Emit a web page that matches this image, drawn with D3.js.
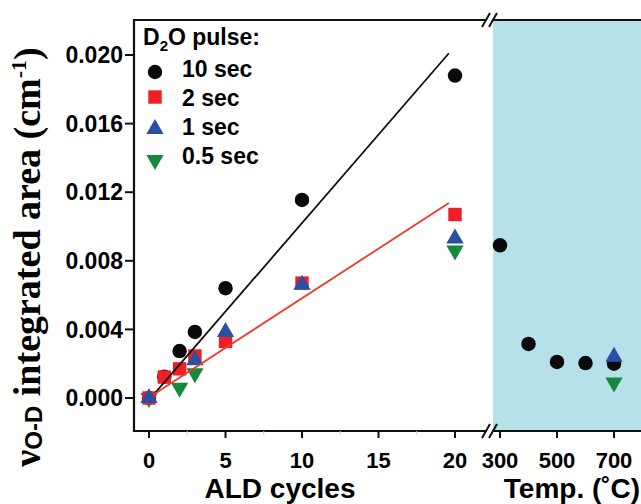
<!DOCTYPE html>
<html>
<head>
<meta charset="utf-8">
<script src="https://cdn.jsdelivr.net/npm/d3@7"></script>
<style>
  body { margin: 0; background: #fff; }
  svg { display: block; }
</style>
</head>
<body>
<div id="chart"></div>
<script>
// left panel: ALD cycles, right panel: temperature (10 sec pulse samples annealed)
const cycleTicks = [0, 5, 10, 15, 20];
const cycleMinor = [2.5, 7.5, 12.5, 17.5];
const tempTicks = [300, 500, 700];
const yTicks = [0, 0.004, 0.008, 0.012, 0.016, 0.020];

// cycles vs integrated area
const sec10 = [[0, 0], [1, 0.00124], [2, 0.00274], [3, 0.00385], [5, 0.0064], [10, 0.01155], [20, 0.0188]];
const sec2 = [[0, 0], [1, 0.00122], [2, 0.0017], [3, 0.00245], [5, 0.0033], [10, 0.0067], [20, 0.0107]];
const sec1 = [[0, 0], [3, 0.0022], [5, 0.00385], [10, 0.0066], [20, 0.0093]];
const sec05 = [[0, 0], [2, 0.0006], [3, 0.00145], [20, 0.0086]];

// temperature vs integrated area
const temp10 = [[300, 0.0089], [400, 0.00315], [500, 0.0021], [600, 0.00204], [700, 0.0020]];
const temp1 = [[700, 0.0024]];
const temp05 = [[700, 0.0009]];

// linear fits (end points)
const fit10 = [[0.4, 0.0003], [19.6, 0.0201]];
const fit2 = [[0.3, 0.0002], [19.6, 0.01137]];

const legendItems = ['10 sec', '2 sec', '1 sec', '0.5 sec'];

const W = 641, H = 504;
const plotLeft = 134, plotTop = 20, plotBottom = 431, breakX = 490;

const svg = d3.select('#chart').append('svg').attr('width', W).attr('height', H);

const x1 = d3.scaleLinear().domain([0, 20]).range([149, 455]);
const x2 = d3.scaleLinear().domain([300, 700]).range([500, 614]);
const y = d3.scaleLinear().domain([0, 0.020]).range([398, 55]);

const sans = "'Liberation Sans', Arial, sans-serif";
const serif = "'Liberation Serif', 'Times New Roman', serif";

// shaded temperature region
svg.append('rect')
  .attr('x', breakX + 3).attr('y', plotTop + 1)
  .attr('width', W - breakX - 3).attr('height', plotBottom - plotTop - 2)
  .style('fill', '#b7e1ea');

// spines
const spine = svg.append('g').style('stroke', '#111').style('stroke-width', 2.2).style('fill', 'none');
spine.append('line').attr('x1', plotLeft).attr('x2', plotLeft).attr('y1', plotTop - 1).attr('y2', plotBottom + 1);
spine.append('line').attr('x1', plotLeft).attr('x2', W).attr('y1', plotTop).attr('y2', plotTop);
spine.append('line').attr('x1', plotLeft).attr('x2', W).attr('y1', plotBottom).attr('y2', plotBottom);

// axis breaks
[plotTop, plotBottom].forEach(yy => {
  svg.append('rect').attr('x', breakX - 3).attr('y', yy - 2).attr('width', 5).attr('height', 4).style('fill', '#fff');
  [breakX - 4, breakX + 3].forEach(bx => {
    svg.append('line')
      .attr('x1', bx - 4).attr('y1', yy + 7)
      .attr('x2', bx + 4).attr('y2', yy - 7)
      .style('stroke', '#111').style('stroke-width', 2);
  });
});

// y ticks
const yAxis = svg.append('g');
yTicks.forEach(t => {
  yAxis.append('line').attr('x1', plotLeft - 9).attr('x2', plotLeft).attr('y1', y(t)).attr('y2', y(t))
    .style('stroke', '#111').style('stroke-width', 2);
  yAxis.append('text')
    .attr('x', plotLeft - 11).attr('y', y(t))
    .attr('dy', '0.36em')
    .style('text-anchor', 'end')
    .style('font-family', sans).style('font-weight', 'bold').style('font-size', '23px')
    .text(d3.format('.3f')(t));
});

// x ticks
function xTick(xs, t, label) {
  svg.append('line').attr('x1', xs(t)).attr('x2', xs(t)).attr('y1', plotBottom).attr('y2', plotBottom + 7)
    .style('stroke', '#111').style('stroke-width', 2);
  svg.append('text')
    .attr('x', xs(t)).attr('y', 468)
    .style('text-anchor', 'middle')
    .style('font-family', sans).style('font-weight', 'bold').style('font-size', '22px')
    .text(label);
}
cycleTicks.forEach(t => xTick(x1, t, t));
tempTicks.forEach(t => xTick(x2, t, t));
cycleMinor.forEach(t => {
  svg.append('line').attr('x1', x1(t)).attr('x2', x1(t)).attr('y1', plotBottom).attr('y2', plotBottom + 4)
    .style('stroke', '#ccc').style('stroke-width', 1);
});

// axis titles
svg.append('text').attr('x', 280).attr('y', 498)
  .style('text-anchor', 'middle')
  .style('font-family', sans).style('font-weight', 'bold').style('font-size', '28px')
  .text('ALD cycles');
svg.append('text').attr('x', 572).attr('y', 498)
  .style('text-anchor', 'middle')
  .style('font-family', sans).style('font-weight', 'bold').style('font-size', '28px')
  .text('Temp. (˚C)');

const ylab = svg.append('text')
  .attr('transform', 'translate(40,257) rotate(-90)')
  .style('text-anchor', 'middle')
  .style('font-family', serif).style('font-weight', 'bold').style('font-size', '38px');
ylab.append('tspan').text('ν');
ylab.append('tspan').style('font-family', sans).style('font-size', '24px').attr('dy', 2).text('O-D');
ylab.append('tspan').attr('dy', -2).text(' integrated area (cm');
ylab.append('tspan').style('font-size', '22px').attr('dy', -14).text('-1');
ylab.append('tspan').attr('dy', 14).text(')');

// markers
const symCircle = d3.symbol().type(d3.symbolCircle).size(165);
const symSquare = d3.symbol().type(d3.symbolSquare).size(180);
const symTri = d3.symbol().type(d3.symbolTriangle).size(130);

function drawSeries(data, xs, sym, color, flip) {
  svg.append('g').selectAll('path')
    .data(data)
    .join('path')
    .attr('d', sym)
    .attr('transform', d => `translate(${xs(d[0])},${y(d[1])})` + (flip ? ' rotate(180)' : ''))
    .style('fill', color);
}

const colors = ['#0a0a0a', '#ee1f26', '#2a4fa3', '#16893c'];

drawSeries(sec10, x1, symCircle, colors[0]);
drawSeries(temp10, x2, symCircle, colors[0]);
drawSeries(sec05, x1, symTri, colors[3], true);
drawSeries(temp05, x2, symTri, colors[3], true);
drawSeries(sec2, x1, symSquare, colors[1]);
drawSeries(sec1, x1, symTri, colors[2]);
drawSeries(temp1, x2, symTri, colors[2]);

// fit lines
const line = d3.line().x(d => x1(d[0])).y(d => y(d[1]));
svg.append('path').attr('d', line(fit10)).style('fill', 'none').style('stroke', '#111').style('stroke-width', 1.8);
svg.append('path').attr('d', line(fit2)).style('fill', 'none').style('stroke', '#f0392a').style('stroke-width', 1.8);

// legend
const lg = svg.append('g').style('font-family', sans).style('font-weight', 'bold').style('font-size', '23px');
const title = lg.append('text').attr('x', 143).attr('y', 45);
title.append('tspan').text('D');
title.append('tspan').style('font-size', '15px').attr('dy', 6).text('2');
title.append('tspan').attr('dy', -6).text('O pulse:');

const legendSyms = [symCircle, symSquare, symTri, symTri];
const legendDy = [-5, -9, -6, -4];
legendItems.forEach((name, i) => {
  const by = 77 + i * 29;
  lg.append('path')
    .attr('d', legendSyms[i])
    .attr('transform', `translate(155,${by + legendDy[i]})` + (i === 3 ? ' rotate(180)' : ''))
    .style('fill', colors[i]);
  lg.append('text').attr('x', 182).attr('y', by).text(name);
});
</script>
</body>
</html>
